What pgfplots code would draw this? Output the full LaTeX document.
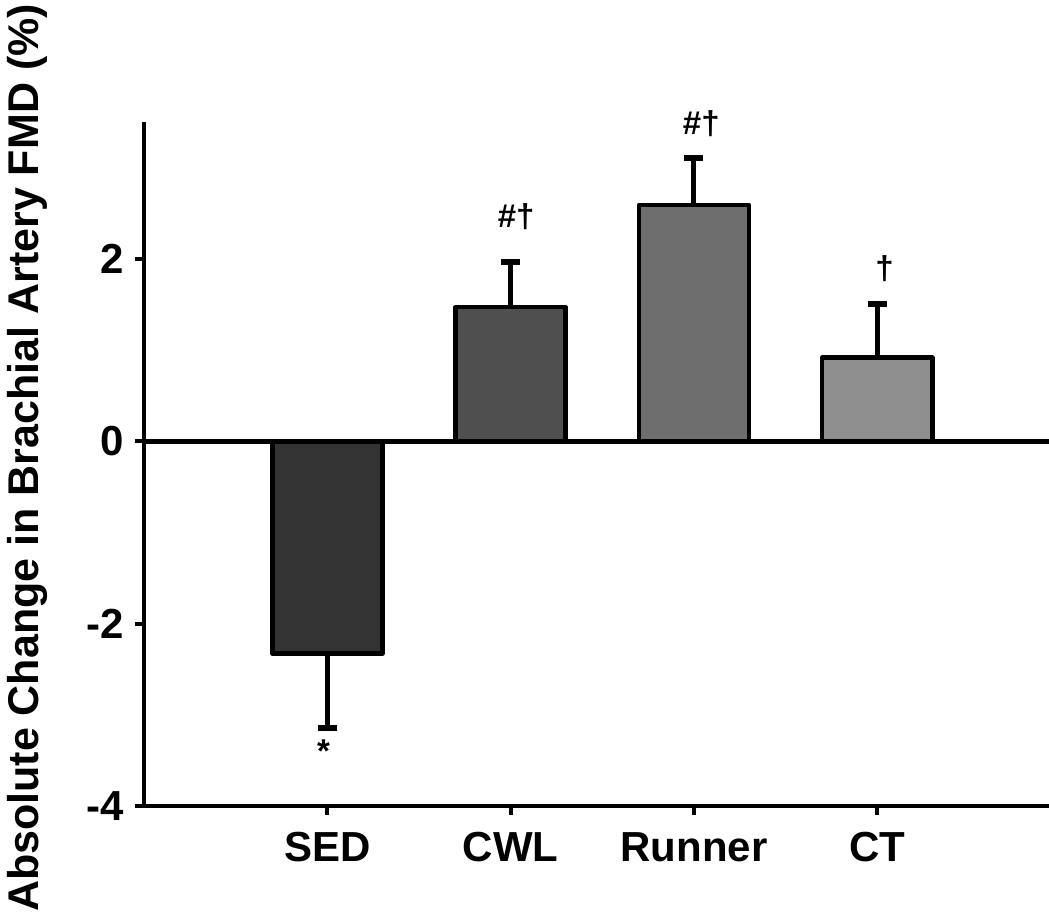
\documentclass[border=0pt]{standalone}
\usepackage{fontspec}
\setmainfont{Liberation Sans}
\usepackage{pgfplots}
\pgfplotsset{compat=1.18}
\definecolor{cSED}{HTML}{333333}
\definecolor{cCWL}{HTML}{4F4F4F}
\definecolor{cRun}{HTML}{6E6E6E}
\definecolor{cCT}{HTML}{8F8F8F}
\begin{document}
\begin{tikzpicture}
\begin{axis}[
  scale only axis, width=905pt, height=684pt,
  xmin=-1, xmax=3.937, ymin=-4, ymax=3.5,
  axis x line*=bottom, axis y line*=left,
  axis line style={line width=4.3pt, black},
  clip=false,
  xtick={0,1,2,3}, xticklabels={SED,CWL,Runner,CT},
  ytick={-4,-2,0,2}, yticklabels={-4,-2,0,2},
  tick align=outside, major tick length=9pt,
  tick style={line width=4pt, black},
  ticklabel style={font=\fontsize{42}{50}\selectfont\bfseries},
  xticklabel style={yshift=-14pt},
  yticklabel style={xshift=-8pt},
  every axis plot/.append style={line join=round},
]
\addplot[ybar, bar width=110pt, bar shift=0pt, fill=cSED, draw=black, line width=4.5pt,
  error bars/.cd, y dir=minus, y explicit,
  error bar style={line width=5pt, black},
  error mark options={rotate=90, mark size=9.5pt, line width=6pt, black}]
  coordinates {(0,-2.33) +- (0,0.82)};
\addplot[ybar, bar width=110pt, bar shift=0pt, fill=cCWL, draw=black, line width=4.5pt,
  error bars/.cd, y dir=plus, y explicit,
  error bar style={line width=5pt, black},
  error mark options={rotate=90, mark size=9.5pt, line width=6pt, black}]
  coordinates {(1,1.47) +- (0,0.50)};
\addplot[ybar, bar width=110pt, bar shift=0pt, fill=cRun, draw=black, line width=4.5pt,
  error bars/.cd, y dir=plus, y explicit,
  error bar style={line width=5pt, black},
  error mark options={rotate=90, mark size=9.5pt, line width=6pt, black}]
  coordinates {(2,2.59) +- (0,0.51)};
\addplot[ybar, bar width=110pt, bar shift=0pt, fill=cCT, draw=black, line width=4.5pt,
  error bars/.cd, y dir=plus, y explicit,
  error bar style={line width=5pt, black},
  error mark options={rotate=90, mark size=9.5pt, line width=6pt, black}]
  coordinates {(3,0.915) +- (0,0.59)};
\addplot[black, line width=5pt, forget plot] coordinates {(-1,0) (3.937,0)};
\node[font=\fontsize{33}{38}\selectfont\bfseries] at (axis cs:-0.02,-3.40) {*};
\node[font=\fontsize{33}{38}\selectfont\bfseries] at (axis cs:1.03,2.46) {\#†};
\node[font=\fontsize{33}{38}\selectfont\bfseries] at (axis cs:2.04,3.48) {\#†};
\node[font=\fontsize{33}{38}\selectfont\bfseries] at (axis cs:3.04,1.89) {†};
\end{axis}
\node[rotate=90, inner sep=0pt, font=\fontsize{43}{50}\selectfont\bfseries]
  at ([xshift=-117pt,yshift=6pt]current axis.west) {Absolute Change in Brachial Artery FMD (\%)};
\pgfresetboundingbox
\path ([xshift=-144pt,yshift=-110pt]current axis.south west) rectangle ([yshift=122pt]current axis.north east);
\end{tikzpicture}
\end{document}
